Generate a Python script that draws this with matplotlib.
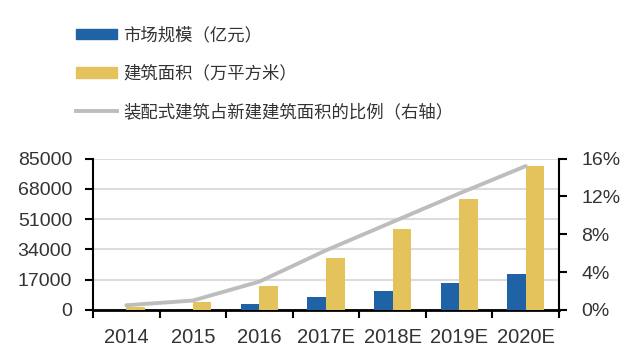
import matplotlib
matplotlib.use("Agg")
import matplotlib.pyplot as plt
import numpy as np
from matplotlib.patches import Patch
from matplotlib.lines import Line2D

categories = ["2014", "2015", "2016", "2017E", "2018E", "2019E", "2020E"]
market_size = [0, 0, 3300, 7300, 10600, 15100, 20000]          # 亿元
building_area = [1500, 4700, 13500, 29200, 45300, 62500, 81000]  # 万平方米
ratio = [0.5, 1.0, 3.0, 6.3, 9.3, 12.3, 15.2]                  # % 右轴

left_ticks = [0, 17000, 34000, 51000, 68000, 85000]
right_ticks = [0, 4, 8, 12, 16]

BLUE = "#1f63a6"
YELLOW = "#e5c35c"
GRAY = "#bdbdbd"

plt.rcParams['font.family'] = ['Liberation Sans', 'Noto Sans CJK SC', 'DejaVu Sans']

fig = plt.figure(figsize=(6.4, 3.6), dpi=100)
ax = fig.add_axes([93/640, 1-310/360, (559-93)/640, (310-158.5)/360])
x = np.arange(len(categories))
w = 0.28
ax.bar(x - w/2, market_size, width=w, color=BLUE, zorder=3)
ax.bar(x + w/2, building_area, width=w, color=YELLOW, zorder=3)
ax.set_xlim(-0.5, len(categories) - 0.5)
ax.set_ylim(0, 85000)
ax.set_yticks(left_ticks)
ax.set_yticklabels([str(v) for v in left_ticks])
ax.grid(axis='y', color='#dcdcdc', linewidth=1.5, zorder=0)
ax.set_axisbelow(True)
ax.set_xticks(x)
ax.set_xticklabels(categories)
ax.set_xticks(np.arange(-0.5, len(categories), 1.0), minor=True)
ax.tick_params(axis='x', which='major', length=0, pad=13, labelsize=14.5, colors='#333333')
ax.tick_params(axis='x', which='minor', length=6, width=1.5, direction='out', color='black')
ax.tick_params(axis='y', length=6, width=1.5, direction='out', labelsize=14, labelcolor='#333333', pad=9)
ax.spines['top'].set_visible(False)
ax.spines['right'].set_visible(False)
ax.spines['left'].set_linewidth(1.5)
ax.spines['bottom'].set_linewidth(2)

ax2 = ax.twinx()
ax2.plot(x, ratio, color=GRAY, linewidth=2.8, zorder=4, solid_capstyle='round')
ax2.set_ylim(0, 16)
ax2.set_yticks(right_ticks)
ax2.set_yticklabels([f"{v}%" for v in right_ticks])
ax2.tick_params(axis='y', length=6, width=1.5, direction='out', labelsize=14, labelcolor='#333333', pad=10)
ax2.spines['top'].set_visible(False)
ax2.spines['left'].set_visible(False)
ax2.spines['bottom'].set_visible(False)
ax2.spines['right'].set_linewidth(1.5)

handles = [Patch(color=BLUE), Patch(color=YELLOW), Line2D([], [], color=GRAY, linewidth=2.8)]
labels = ["市场规模（亿元）", "建筑面积（万平方米）", "装配式建筑占新建建筑面积的比例（右轴）"]
fig.legend(handles, labels, loc='upper left', bbox_to_anchor=(76/640, 1-26/360),
           frameon=False, borderpad=0, borderaxespad=0, handlelength=2.36, handleheight=0.57,
           handletextpad=0.35, labelspacing=1.18,
           prop={'family': ['Noto Sans CJK SC', 'DejaVu Sans'], 'size': 12.5}, labelcolor='#333333')

fig.savefig("out.png", dpi=100)
